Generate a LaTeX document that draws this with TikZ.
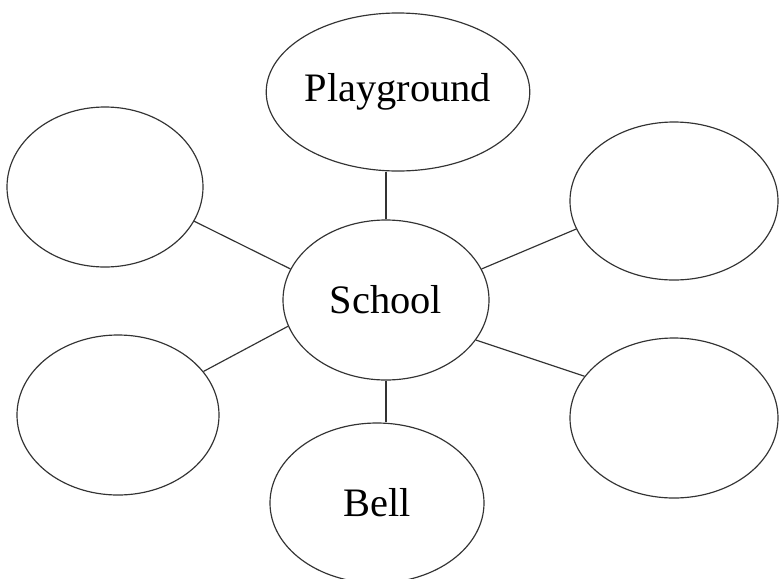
\documentclass[tikz,border=0pt]{standalone}
\usepackage{fontspec}
\setmainfont{Liberation Serif}
\tikzset{
  bubble/.style={shape=ellipse,draw=black!80,line width=1pt,inner sep=0pt,font=\fontsize{34.5}{38}\selectfont},
  link/.style={draw=black!80,line width=1pt}
}
\usetikzlibrary{shapes.geometric}
\begin{document}
\begin{tikzpicture}[x=0.03cm,y=-0.03cm]
    \useasboundingbox[fill=white] (0,0) rectangle (779,578);
    \node[bubble,minimum width=6.18cm,minimum height=4.8cm] (school) at (386,300) {School};
    \node[bubble,minimum width=6.6cm,minimum height=4.74cm] (playground) at (398,92) {Playground};
    \node[bubble,minimum width=5.88cm,minimum height=4.8cm] (topleft) at (105,187) {};
    \node[bubble,minimum width=6.24cm,minimum height=4.74cm] (topright) at (674,201) {};
    \node[bubble,minimum width=6.06cm,minimum height=4.8cm] (bottomleft) at (118,415) {};
    \node[bubble,minimum width=6.24cm,minimum height=4.8cm] (bottomright) at (674,418) {};
    \node[bubble,minimum width=6.42cm,minimum height=4.8cm] (bell) at (377,503) {Bell};
    % spokes
    \draw[link] (school.north) to (school.north |- playground.south);
    \draw[link] (school.south) to (school.south |- bell.north);
    \draw[link] (topleft.-21) to (school.162);
    \draw[link] (topright.196) to (school.18);
    \draw[link] (bottomleft.27) to (school.195);
    \draw[link] (bottomright.155) to (school.-24);
\end{tikzpicture}
\end{document}
